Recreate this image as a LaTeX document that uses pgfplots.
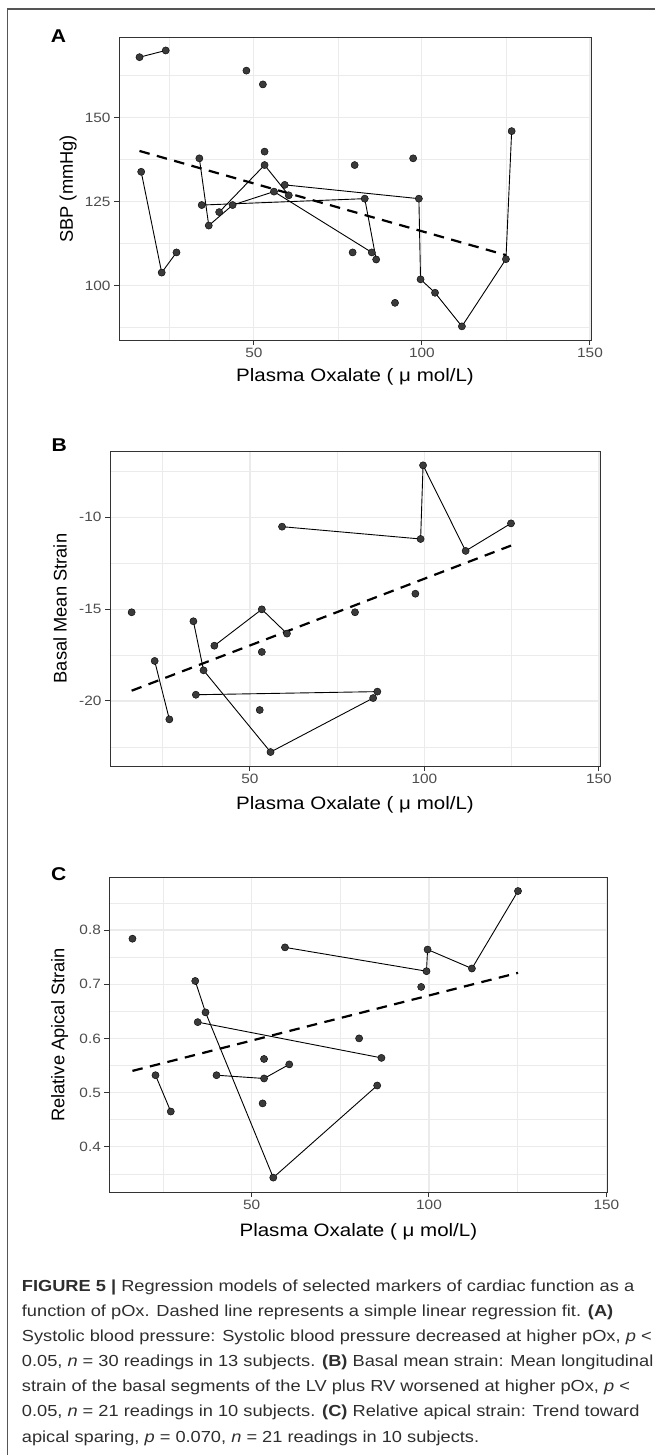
\documentclass[border=0pt]{standalone}
\usepackage{fontspec}
\setmainfont[FakeStretch=1.14]{Liberation Sans}
\newfontfamily\ylabfont{Liberation Sans}
\usepackage{pgfplots}
\pgfplotsset{compat=1.18}
\definecolor{gridc}{HTML}{EBEBEB}
\definecolor{axc}{HTML}{333333}
\definecolor{tickc}{HTML}{4D4D4D}
\definecolor{ptc}{HTML}{3A3A3A}
\definecolor{capc}{HTML}{2E2E2E}
\definecolor{framec}{HTML}{555555}

\pgfplotsset{
  panel/.style={
    scale only axis,
    xmin=9.9, xmax=150.3,
    xtick={50,100,150}, xticklabels={50,100,150},
    minor xtick={25,75,125},
    tick align=outside, xtick pos=left, ytick pos=left,
    major tick length=5pt, minor tick length=0pt,
    grid=both,
    major grid style={gridc, line width=1.1pt},
    minor grid style={gridc, line width=0.55pt},
    axis line style={axc, line width=1pt},
    every tick/.style={axc, line width=1pt},
    ticklabel style={font=\fontsize{13.5}{16}\selectfont, text=tickc},
    xlabel style={font=\fontsize{18}{22}\selectfont, text=black},
    ylabel style={font=\ylabfont\fontsize{18.3}{22}\selectfont, text=black},
    xlabel={Plasma Oxalate ( μ mol/L)},
  },
  conn/.style={black, line width=0.9pt, no marks},
  reg/.style={black, line width=2.2pt, no marks, dash pattern=on 10.5pt off 7.5pt},
  dots/.style={only marks, mark=*, mark size=3.6pt, mark options={fill=ptc, draw=black, line width=0.4pt}},
}

\begin{document}
\begin{tikzpicture}
\useasboundingbox (0,0) rectangle (655pt,-1455pt);
\draw[framec, line width=1.3pt] (7.3pt,-1456pt) -- (7.3pt,-9pt) -- (656pt,-9pt);

% ---------------- Panel A ----------------
\node[anchor=base west, inner sep=0pt, font=\bfseries\fontsize{18.5}{20}\selectfont] at (50.7pt,-42.7pt) {A};
\begin{axis}[panel,
  at={(119pt,-37.7pt)}, anchor=north west,
  width=472pt, height=302.3pt,
  ymin=83.84, ymax=173.8,
  ytick={100,125,150}, yticklabels={100,125,150},
  minor ytick={87.5,112.5,137.5,162.5},
  ylabel={SBP (mmHg)},
  xlabel style={at={(axis description cs:0.5,0)}, anchor=base, yshift=-41.5pt},
  ylabel style={at={(axis description cs:-0.108,0.5)}, anchor=center},
]
\addplot[conn] coordinates {(16.0,168.0)(23.8,170.0)};
\addplot[conn] coordinates {(16.5,133.9)(22.6,103.9)(27.0,109.9)};
\addplot[conn] coordinates {(33.8,137.9)(36.6,117.9)(43.7,124.0)(56.0,128.0)(85.1,109.9)};
\addplot[conn] coordinates {(34.5,124.0)(83.0,125.9)(86.4,107.8)};
\addplot[conn] coordinates {(39.7,121.9)(53.2,135.9)(60.4,126.9)};
\addplot[conn] coordinates {(59.2,130.0)(99.1,125.9)(99.6,101.9)(103.9,97.9)(111.9,87.9)(125.0,107.9)(126.7,146.0)};
\addplot[reg] coordinates {(16.0,140.1)(125.0,109.1)};
\addplot[dots] coordinates {
(16.0,168.0)(23.8,170.0)(47.8,164.0)(52.7,159.9)(126.7,146.0)
(53.2,139.9)(33.8,137.9)(97.4,137.9)(16.5,133.9)(53.2,135.9)
(80.0,135.9)(59.2,130.0)(56.0,128.0)(60.4,126.9)(83.0,125.9)
(99.1,125.9)(34.5,124.0)(43.7,124.0)(39.7,121.9)(36.6,117.9)
(27.0,109.9)(79.4,109.9)(85.1,109.9)(86.4,107.8)(125.0,107.9)
(22.6,103.9)(99.6,101.9)(103.9,97.9)(92.0,94.9)(111.9,87.9)};
\end{axis}

% ---------------- Panel B ----------------
\node[anchor=base west, inner sep=0pt, font=\bfseries\fontsize{18.5}{20}\selectfont] at (51.4pt,-451.7pt) {B};
\begin{axis}[panel,
  at={(110pt,-451pt)}, anchor=north west,
  width=490pt, height=315pt,
  ymin=-23.54, ymax=-6.39,
  ytick={-20,-15,-10}, yticklabels={-20,-15,-10},
  minor ytick={-22.5,-17.5,-12.5,-7.5},
  ylabel={Basal Mean Strain},
  xlabel style={at={(axis description cs:0.5,0)}, anchor=base, yshift=-43pt},
  ylabel style={at={(axis description cs:-0.102,0.5)}, anchor=center},
]
\addplot[conn] coordinates {(59.2,-10.51)(98.9,-11.18)(99.6,-7.17)(111.8,-11.83)(124.8,-10.33)};
\addplot[conn] coordinates {(22.7,-17.82)(26.9,-21.0)};
\addplot[conn] coordinates {(33.8,-15.66)(36.7,-18.33)(55.9,-22.78)(85.3,-19.84)};
\addplot[conn] coordinates {(34.5,-19.66)(86.5,-19.49)};
\addplot[conn] coordinates {(39.8,-16.99)(53.4,-15.01)(60.6,-16.33)};
\addplot[reg] coordinates {(16.1,-19.44)(124.8,-11.54)};
\addplot[dots] coordinates {
(99.6,-7.17)(124.8,-10.33)(59.2,-10.51)(98.9,-11.18)(111.8,-11.83)
(97.4,-14.16)(16.1,-15.17)(80.1,-15.17)(53.4,-15.01)(33.8,-15.66)
(60.6,-16.33)(39.8,-16.99)(53.4,-17.33)(22.7,-17.82)(36.7,-18.33)
(34.5,-19.66)(86.5,-19.49)(85.3,-19.84)(52.8,-20.49)(26.9,-21.0)
(55.9,-22.78)};
\end{axis}

% ---------------- Panel C ----------------
\node[anchor=base west, inner sep=0pt, font=\bfseries\fontsize{18.5}{20}\selectfont] at (51pt,-880pt) {C};
\begin{axis}[panel,
  at={(109.4pt,-877.7pt)}, anchor=north west,
  width=498pt, height=314.3pt,
  ymin=0.3164, ymax=0.8966,
  ytick={0.4,0.5,0.6,0.7,0.8}, yticklabels={0.4,0.5,0.6,0.7,0.8},
  minor ytick={0.35,0.45,0.55,0.65,0.75,0.85},
  ylabel={Relative Apical Strain},
  xlabel style={at={(axis description cs:0.5,0)}, anchor=base, yshift=-44pt},
  ylabel style={at={(axis description cs:-0.100,0.5)}, anchor=center},
]
\addplot[conn] coordinates {(59.4,0.768)(99.3,0.724)(99.6,0.764)(112.1,0.729)(125.1,0.872)};
\addplot[conn] coordinates {(22.9,0.532)(27.2,0.465)};
\addplot[conn] coordinates {(34.1,0.706)(37.0,0.648)(56.1,0.343)(85.4,0.513)};
\addplot[conn] coordinates {(34.8,0.630)(86.6,0.564)};
\addplot[conn] coordinates {(40.1,0.532)(53.5,0.526)(60.6,0.552)};
\addplot[reg] coordinates {(16.4,0.540)(125.1,0.721)};
\addplot[dots] coordinates {
(125.1,0.872)(16.4,0.784)(59.4,0.768)(99.6,0.764)(99.3,0.724)
(112.1,0.729)(97.8,0.695)(34.1,0.706)(37.0,0.648)(34.8,0.630)
(80.3,0.600)(86.6,0.564)(53.5,0.562)(60.6,0.552)(22.9,0.532)
(40.1,0.532)(53.5,0.526)(85.4,0.513)(53.1,0.480)(27.2,0.465)
(56.1,0.343)};
\end{axis}

% ---------------- Caption ----------------
\begin{scope}[every node/.style={anchor=base west, inner sep=0pt, text=capc, font=\fontsize{16}{20}\selectfont}]
\node at (21.7pt,-1291pt) {\textbf{FIGURE 5 |} Regression models of selected markers of cardiac function as a};
\node at (21.7pt,-1316.2pt) {function of pOx. Dashed line represents a simple linear regression fit. \textbf{(A)}};
\node at (21.7pt,-1341.3pt) {Systolic blood pressure: Systolic blood pressure decreased at higher pOx, \textit{p} <};
\node at (21.7pt,-1366.5pt) {0.05, \textit{n} = 30 readings in 13 subjects. \textbf{(B)} Basal mean strain: Mean longitudinal};
\node at (21.7pt,-1391.7pt) {strain of the basal segments of the LV plus RV worsened at higher pOx, \textit{p} <};
\node at (21.7pt,-1416.8pt) {0.05, \textit{n} = 21 readings in 10 subjects. \textbf{(C)} Relative apical strain: Trend toward};
\node at (21.7pt,-1442pt) {apical sparing, \textit{p} = 0.070, \textit{n} = 21 readings in 10 subjects.};
\end{scope}
\end{tikzpicture}
\end{document}
